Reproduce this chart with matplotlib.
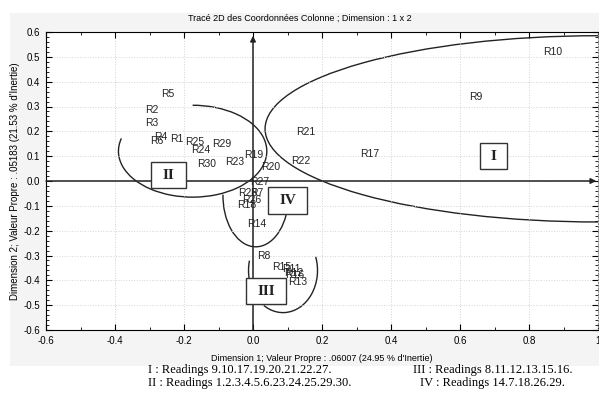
import matplotlib.pyplot as plt
from matplotlib.patches import Ellipse, Arc, Rectangle
from matplotlib.ticker import MultipleLocator

# point labels and coordinates (dimension 1, dimension 2)
labels = ["R1", "R2", "R3", "R4", "R5", "R6", "R7", "R8", "R9", "R10",
          "R11", "R12", "R13", "R14", "R15", "R16", "R17", "R18", "R19", "R20",
          "R21", "R22", "R23", "R24", "R25", "R26", "R27", "R28", "R29", "R30"]
dim1 = [-0.220, -0.293, -0.293, -0.267, -0.246, -0.278, 0.012, 0.032, 0.646, 0.870,
        0.110, 0.119, 0.130, 0.012, 0.084, 0.121, 0.339, -0.017, 0.003, 0.052,
        0.154, 0.139, -0.052, -0.151, -0.168, -0.005, 0.020, -0.014, -0.090, -0.133]
dim2 = [0.169, 0.286, 0.234, 0.177, 0.350, 0.161, -0.050, -0.302, 0.339, 0.520,
        -0.355, -0.371, -0.407, -0.173, -0.347, -0.380, 0.109, -0.097, 0.105, 0.056,
        0.198, 0.081, 0.076, 0.125, 0.157, -0.075, -0.004, -0.050, 0.149, 0.068]

groups = ["I", "II", "III", "IV"]
group_pos = [(0.697, 0.100), (-0.245, 0.024), (0.038, -0.443), (0.100, -0.079)]
group_size = [(0.078, 0.105), (0.102, 0.105), (0.116, 0.106), (0.114, 0.109)]

captions_left = ["I : Readings 9.10.17.19.20.21.22.27.",
                 "II : Readings 1.2.3.4.5.6.23.24.25.29.30."]
captions_right = ["III : Readings 8.11.12.13.15.16.",
                  "IV : Readings 14.7.18.26.29."]

sans = ["Liberation Sans Narrow", "Liberation Sans", "DejaVu Sans"]
serif = ["Liberation Serif", "DejaVu Serif"]
plt.rcParams["font.family"] = sans

fig = plt.figure(figsize=(5.99, 3.95), dpi=100)
# light grey panel behind the chart
fig.patches.append(Rectangle((10/599, 1-366/395), 589/599, 353/395,
                             transform=fig.transFigure, facecolor="#f4f4f4",
                             edgecolor="none", zorder=-5))
ax = fig.add_axes([46/599, 1-330/395, 552/599, 298/395])
ax.set_facecolor("white")

ax.set_xlim(-0.6, 1.0)
ax.set_ylim(-0.6, 0.6)
ax.xaxis.set_major_locator(MultipleLocator(0.2))
ax.xaxis.set_minor_locator(MultipleLocator(0.1))
ax.yaxis.set_major_locator(MultipleLocator(0.1))
ax.yaxis.set_minor_locator(MultipleLocator(0.02))
ax.tick_params(which="both", direction="in", top=True, right=True,
               labelsize=7, pad=4)
ax.tick_params(which="major", length=4)
ax.tick_params(which="minor", length=2)
ax.xaxis.set_major_formatter(lambda v, p: "1" if abs(v - 1) < 1e-9 else f"{v:.1f}")
ax.yaxis.set_major_formatter(lambda v, p: f"{v:.1f}")
ax.grid(True, which="major", linestyle=":", color="#d4d4d4", linewidth=0.7)
ax.spines["right"].set_linestyle(":")
ax.spines["right"].set_color("#888888")

# axes through the origin with arrows
ax.annotate("", xy=(0.995, 0), xytext=(-0.6, 0),
            arrowprops=dict(arrowstyle="-|>", color="#222222", lw=1.1,
                            mutation_scale=8, shrinkA=0, shrinkB=0))
ax.annotate("", xy=(0, 0.585), xytext=(0, -0.6),
            arrowprops=dict(arrowstyle="-|>", color="#222222", lw=1.1,
                            mutation_scale=8, shrinkA=0, shrinkB=0))

# cluster outlines
ax.add_patch(Ellipse((1.0, 0.21), 1.93, 0.75, fill=False, lw=1, color="#222222"))
ax.add_patch(Arc((-0.175, 0.12), 0.43, 0.37, theta1=166, theta2=450,
                 lw=1, color="#222222"))
ax.add_patch(Arc((0.008, -0.06), 0.19, 0.41, theta1=177, theta2=337,
                 lw=1, color="#222222"))
ax.add_patch(Arc((0.087, -0.36), 0.20, 0.34, theta1=158, theta2=390,
                 lw=1, color="#222222"))

for lab, x, y in zip(labels, dim1, dim2):
    ax.text(x, y, lab, fontsize=7.5, ha="center", va="center", color="#222222")

for g, (x, y), (w, h) in zip(groups, group_pos, group_size):
    ax.add_patch(Rectangle((x - w/2, y - h/2), w, h, facecolor="white",
                           edgecolor="#333333", lw=1, zorder=5))
    ax.text(x, y, g, fontsize=11, family=serif, fontweight="bold",
            ha="center", va="center", zorder=6, color="#222222")

ax.set_xlabel("Dimension 1; Valeur Propre : .06007 (24.95 % d'Inertie)",
              fontsize=6.5, labelpad=6)
ax.set_ylabel("Dimension 2; Valeur Propre : .05183 (21.53 % d'Inertie)",
              fontsize=7, labelpad=3)
fig.text(0.5, 1-18/395, "Tracé 2D des Coordonnées Colonne ; Dimension : 1 x 2",
         fontsize=6.5, ha="center", va="center")

for i, c in enumerate(captions_left):
    fig.text(148/599, 1-(370+13*i)/395, c, fontsize=9, family=serif,
             ha="left", va="center")
for i, c in enumerate(captions_right):
    fig.text(493/599, 1-(370+13*i)/395, c, fontsize=9, family=serif,
             ha="center", va="center")

fig.savefig("out.png", dpi=100, facecolor="white")
